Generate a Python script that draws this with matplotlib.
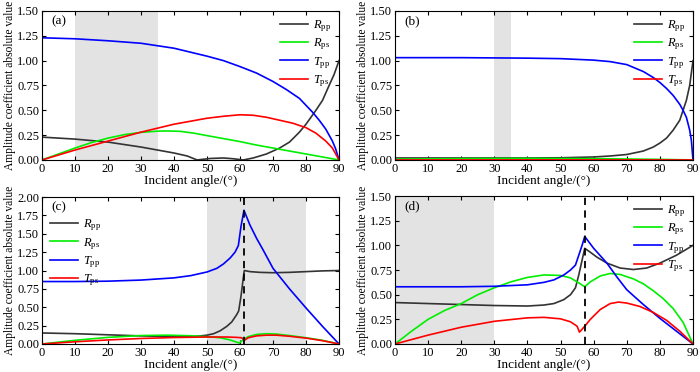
import matplotlib
matplotlib.use('Agg')
import matplotlib.pyplot as plt

plt.rcParams['font.family'] = ['Liberation Serif', 'DejaVu Serif']
plt.rcParams['mathtext.fontset'] = 'custom'
plt.rcParams['mathtext.rm'] = 'Liberation Serif'
plt.rcParams['mathtext.it'] = 'Liberation Serif:italic'

# ---- panel (a) ----
a_rpp_x = [0, 10, 20, 30, 40, 44, 47, 51, 55, 58, 61, 64, 68, 72, 75, 78, 80, 83, 85, 87, 88.5, 90]
a_rpp_y = [0.23, 0.21, 0.18, 0.13, 0.07, 0.04, 0.0, 0.015, 0.02, 0.012, 0.0, 0.02, 0.06, 0.12, 0.18, 0.28, 0.36, 0.5, 0.6, 0.75, 0.86, 1.0]
a_rps_x = [0, 5, 10, 15, 20, 25, 30, 35, 38, 42, 46, 50, 55, 60, 65, 70, 75, 80, 85, 90]
a_rps_y = [0.0, 0.06, 0.12, 0.175, 0.22, 0.255, 0.278, 0.29, 0.292, 0.288, 0.27, 0.245, 0.215, 0.185, 0.15, 0.12, 0.09, 0.06, 0.03, 0.0]
a_tpp_x = [0, 10, 20, 30, 40, 50, 55, 60, 65, 70, 74, 78, 80, 82, 84, 86, 88, 89, 90]
a_tpp_y = [1.23, 1.22, 1.2, 1.175, 1.125, 1.045, 1.0, 0.94, 0.875, 0.79, 0.71, 0.62, 0.55, 0.48, 0.4, 0.31, 0.19, 0.11, 0.0]
a_tps_x = [0, 10, 20, 30, 40, 50, 55, 60, 64, 68, 72, 76, 80, 83, 86, 88, 90]
a_tps_y = [0.0, 0.1, 0.19, 0.28, 0.36, 0.42, 0.44, 0.455, 0.45, 0.43, 0.4, 0.37, 0.325, 0.27, 0.19, 0.12, 0.0]

# ---- panel (b) ----
b_rpp_x = [0, 20, 40, 50, 60, 65, 70, 75, 78, 80, 82, 84, 86, 87, 88, 89, 90]
b_rpp_y = [0.02, 0.02, 0.02, 0.022, 0.03, 0.04, 0.055, 0.09, 0.13, 0.17, 0.22, 0.3, 0.4, 0.5, 0.6, 0.75, 1.0]
b_rps_x = [0, 20, 40, 60, 80, 90]
b_rps_y = [0.008, 0.014, 0.016, 0.013, 0.006, 0.0]
b_tpp_x = [0, 20, 40, 50, 60, 65, 70, 75, 78, 80, 82, 84, 86, 87, 88, 89, 89.5, 90]
b_tpp_y = [1.03, 1.03, 1.025, 1.02, 1.005, 0.99, 0.96, 0.89, 0.83, 0.78, 0.72, 0.65, 0.56, 0.5, 0.43, 0.3, 0.2, 0.0]
b_tps_x = [0, 45, 90]
b_tps_y = [0.0, 0.001, 0.0]

# ---- panel (c) ----
c_rpp_x = [0, 10, 20, 30, 40, 45, 48, 50, 52, 54, 56, 57.5, 59, 59.6, 60.3, 61.0, 61.3, 63, 66, 70, 75, 80, 85, 90]
c_rpp_y = [0.15, 0.14, 0.125, 0.11, 0.1, 0.1, 0.11, 0.12, 0.14, 0.18, 0.24, 0.3, 0.4, 0.45, 0.65, 0.9, 1.0, 0.985, 0.975, 0.97, 0.975, 0.985, 0.995, 1.0]
c_rps_x = [0, 10, 20, 30, 38, 45, 50, 54, 57, 59, 59.8, 60.5, 61.3, 62.5, 65, 68, 71, 75, 80, 85, 90]
c_rps_y = [0.0, 0.05, 0.09, 0.115, 0.12, 0.112, 0.1, 0.085, 0.055, 0.025, 0.012, 0.04, 0.07, 0.1, 0.13, 0.14, 0.135, 0.115, 0.085, 0.05, 0.0]
c_tpp_x = [0, 10, 20, 30, 40, 45, 50, 53, 55, 57, 58.5, 59.5, 60.3, 61.2, 63, 65, 67, 70, 75, 80, 85, 90]
c_tpp_y = [0.85, 0.85, 0.855, 0.87, 0.9, 0.93, 0.98, 1.03, 1.09, 1.17, 1.25, 1.34, 1.6, 1.82, 1.62, 1.44, 1.28, 1.03, 0.75, 0.49, 0.24, 0.0]
c_tps_x = [0, 10, 20, 30, 40, 50, 56, 59, 60.5, 61.3, 62.5, 65, 68, 71, 75, 80, 85, 90]
c_tps_y = [0.0, 0.03, 0.055, 0.075, 0.088, 0.095, 0.095, 0.09, 0.085, 0.05, 0.085, 0.11, 0.12, 0.12, 0.105, 0.08, 0.045, 0.0]

# ---- panel (d) ----
d_rpp_x = [0, 10, 20, 30, 40, 45, 48, 51, 53, 54.5, 55.5, 56.5, 57.3, 59, 61, 64, 68, 72, 76, 80, 85, 90]
d_rpp_y = [0.42, 0.41, 0.4, 0.39, 0.385, 0.395, 0.41, 0.45, 0.5, 0.57, 0.7, 0.85, 0.97, 0.93, 0.88, 0.82, 0.77, 0.755, 0.77, 0.82, 0.9, 1.0]
d_rps_x = [0, 5, 10, 15, 20, 25, 30, 35, 40, 45, 50, 53, 55.5, 57.3, 59, 62, 65, 68, 72, 75, 78, 81, 84, 87, 90]
d_rps_y = [0.0, 0.13, 0.25, 0.34, 0.41, 0.5, 0.57, 0.63, 0.675, 0.7, 0.695, 0.67, 0.62, 0.58, 0.63, 0.69, 0.715, 0.705, 0.66, 0.61, 0.54, 0.46, 0.36, 0.22, 0.0]
d_tpp_x = [0, 10, 20, 30, 40, 45, 48, 51, 53, 54.5, 55.5, 56.5, 57.3, 60, 64, 67, 70, 75, 80, 85, 90]
d_tpp_y = [0.58, 0.58, 0.58, 0.585, 0.6, 0.625, 0.65, 0.7, 0.75, 0.8, 0.9, 1.0, 1.09, 0.97, 0.82, 0.68, 0.55, 0.4, 0.26, 0.13, 0.0]
d_tps_x = [0, 10, 20, 30, 40, 45, 50, 53, 55, 55.7, 57.3, 59, 62, 65, 67.5, 70, 74, 78, 82, 86, 90]
d_tps_y = [0.0, 0.09, 0.17, 0.23, 0.265, 0.27, 0.255, 0.225, 0.18, 0.12, 0.18, 0.25, 0.35, 0.41, 0.425, 0.415, 0.38, 0.32, 0.24, 0.13, 0.0]

labels = [r'$R_{\rm pp}$', r'$R_{\rm ps}$', r'$T_{\rm pp}$', r'$T_{\rm ps}$']
colors = ['#333333', '#00ee00', '#0000ff', '#ff0000']

panels = [
    dict(tag='(a)', pos=[0.060, 0.570, 0.4243, 0.4005], ylim=2, shade=(10, 35), vline=None,
         series=[(a_rpp_x, a_rpp_y), (a_rps_x, a_rps_y), (a_tpp_x, a_tpp_y), (a_tps_x, a_tps_y)], leg='upper right'),
    dict(tag='(b)', pos=[0.5643, 0.570, 0.4257, 0.4005], ylim=2, shade=(30, 35), vline=None,
         series=[(b_rpp_x, b_rpp_y), (b_rps_x, b_rps_y), (b_tpp_x, b_tpp_y), (b_tps_x, b_tps_y)], leg='upper right'),
    dict(tag='(c)', pos=[0.060, 0.0753, 0.4243, 0.395], ylim=1, shade=(50, 80), vline=61.2,
         series=[(c_rpp_x, c_rpp_y), (c_rps_x, c_rps_y), (c_tpp_x, c_tpp_y), (c_tps_x, c_tps_y)], leg='upper left'),
    dict(tag='(d)', pos=[0.5643, 0.0753, 0.4257, 0.3977], ylim=2, shade=(0, 30), vline=57.3,
         series=[(d_rpp_x, d_rpp_y), (d_rps_x, d_rps_y), (d_tpp_x, d_tpp_y), (d_tps_x, d_tps_y)], leg='upper right'),
]

fig = plt.figure(figsize=(7, 3.72), dpi=100)

for p in panels:
    ax = fig.add_axes(p['pos'])
    ax.axvspan(*p['shade'], color='#e3e3e3', lw=0, zorder=0)
    for (x, y), lab, c in zip(p['series'], labels, colors):
        ax.plot(x, y, color=c, lw=1.2, label=lab)
    if p['vline'] is not None:
        ax.axvline(p['vline'], color='k', ls=(0, (4, 3)), lw=1.3)
    ax.set_xlim(0, 90)
    ax.set_xticks(range(0, 91, 10))
    if p['ylim'] == 1:
        ax.set_ylim(0, 2.0)
        ax.set_yticks([0, 0.25, 0.5, 0.75, 1.0, 1.25, 1.5, 1.75, 2.0])
    else:
        ax.set_ylim(0, 1.5)
        ax.set_yticks([0, 0.25, 0.5, 0.75, 1.0, 1.25, 1.5])
    ax.yaxis.set_major_formatter(matplotlib.ticker.FormatStrFormatter('%.2f'))
    ax.tick_params(direction='in', top=True, right=True, labelsize=9, length=3, pad=2)
    ax.set_xlabel('Incident angle/(°)', fontsize=9.5, labelpad=0)
    ax.set_ylabel('Amplitude coefficient absolute value', fontsize=8.3, labelpad=1)
    ax.text(0.03, 0.93, p['tag'], transform=ax.transAxes, fontsize=9.5, va='center')
    if p['leg'] == 'upper left':
        ax.legend(loc='upper left', bbox_to_anchor=(0.0, 0.91), frameon=False, fontsize=9,
                  handlelength=2.3, labelspacing=0.2, handletextpad=0.4, borderaxespad=0.2)
    else:
        ax.legend(loc='upper right', frameon=False, fontsize=9,
                  handlelength=2.3, labelspacing=0.2, handletextpad=0.4, borderaxespad=0.2)

fig.savefig('out.png', dpi=100)
